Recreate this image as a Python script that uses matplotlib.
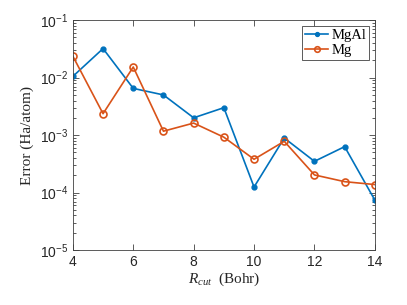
import numpy as np
import matplotlib
matplotlib.use("Agg")
import matplotlib.pyplot as plt
from matplotlib.ticker import LogLocator, NullFormatter

plt.rcParams['font.family'] = ['Liberation Sans', 'DejaVu Sans']
plt.rcParams['mathtext.fontset'] = 'custom'
plt.rcParams['mathtext.rm'] = 'Liberation Sans'
plt.rcParams['mathtext.it'] = 'Liberation Serif:italic'

# data
rcut = [4, 5, 6, 7, 8, 9, 10, 11, 12, 13, 14]
err_mgal = [0.0105, 0.032, 0.0065, 0.0050, 0.0020, 0.0030,
            1.25e-4, 8.9e-4, 3.5e-4, 6.3e-4, 7.4e-5]
err_mg = [0.0236, 0.00236, 0.0153, 0.00117, 0.00162, 9.2e-4,
          3.8e-4, 7.8e-4, 2.03e-4, 1.55e-4, 1.38e-4]
xticks = [4, 6, 8, 10, 12, 14]

blue = '#0072BD'
orange = '#D95319'
axcol = '#404040'

fig = plt.figure(figsize=(4.07, 3.05), dpi=100)
ax = fig.add_axes([0.179, 0.180, 0.742, 0.754])

ax.semilogy(rcut, err_mgal, '-', color=blue, lw=1.2, marker='o',
            ms=3.5, mfc=blue, mec=blue, label='MgAl')
ax.semilogy(rcut, err_mg, '-', color=orange, lw=1.2, marker='o',
            ms=5, mfc='none', mec=orange, mew=1.2, label='Mg')

ax.set_xlim(4, 14)
ax.set_ylim(1e-5, 1e-1)
ax.set_xticks(xticks)
ax.yaxis.set_major_locator(LogLocator(base=10, numticks=10))
ax.yaxis.set_minor_locator(LogLocator(base=10, subs=np.arange(2, 10), numticks=10))
ax.yaxis.set_minor_formatter(NullFormatter())

ax.tick_params(which='both', direction='in', top=True, right=True,
               labelsize=10, color=axcol, labelcolor='#262626', width=0.6)
ax.tick_params(which='major', length=4)
ax.tick_params(which='minor', length=2)
for s in ax.spines.values():
    s.set_linewidth(0.6)
    s.set_color(axcol)

ax.set_xlabel(r'$R_{cut}$  (Bohr)', family='Liberation Serif', fontsize=11,
              color='#262626', labelpad=1)
ax.set_ylabel('Error (Ha/atom)', family='Liberation Serif', fontsize=11,
              color='#262626', labelpad=4)

leg = ax.legend(loc='upper right', prop={'family': 'Liberation Serif', 'size': 10.5},
                fancybox=False, edgecolor=axcol, framealpha=1,
                borderaxespad=0.4, borderpad=0.2, handlelength=1.6,
                handletextpad=0.2, labelspacing=0.1, markerscale=0.8)
leg.get_frame().set_linewidth(0.6)

fig.savefig('out.png', dpi=100)
